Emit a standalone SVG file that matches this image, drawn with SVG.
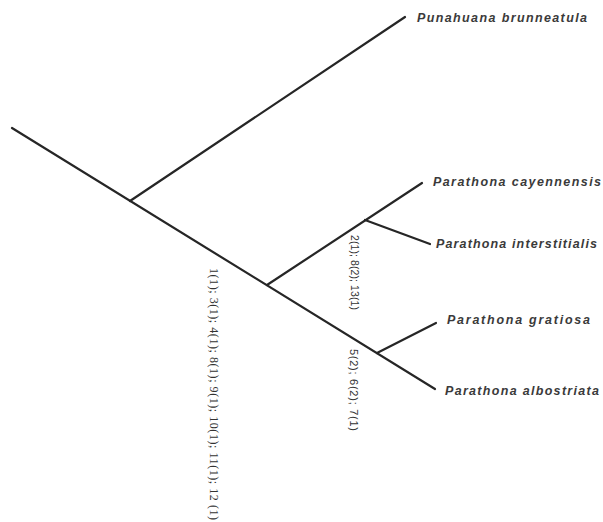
<svg xmlns="http://www.w3.org/2000/svg" width="603" height="522" viewBox="0 0 603 522">
<style>
.br{stroke:#262626;stroke-width:2.2;fill:none;stroke-linecap:round}
.tx{font-family:"Liberation Sans",Arial,sans-serif;font-style:italic;font-weight:bold;font-size:12.5px;fill:#3a3a3a}
.ch{font-family:"Liberation Sans",Arial,sans-serif;font-size:11px;fill:#333}
.chs{font-family:"Liberation Serif","Times New Roman",serif;font-size:12px;fill:#333}
</style>
<rect width="603" height="522" fill="#fff"/>
<g id="connectors">
<line class="br" x1="12" y1="128" x2="435" y2="389"/>
<line class="br" x1="130" y1="201" x2="405" y2="17"/>
<line class="br" x1="267" y1="285" x2="422" y2="183"/>
<line class="br" x1="365" y1="220" x2="430" y2="244"/>
<line class="br" x1="377" y1="353" x2="436" y2="323"/>
</g>
<g id="t1"><text class="tx" x="417" y="22" textLength="170" lengthAdjust="spacing">Punahuana brunneatula</text></g>
<g id="t2"><text class="tx" x="433" y="186" textLength="168" lengthAdjust="spacing">Parathona cayennensis</text></g>
<g id="t3"><text class="tx" x="436" y="248" textLength="161" lengthAdjust="spacing">Parathona interstitialis</text></g>
<g id="t4"><text class="tx" x="447" y="324" textLength="143" lengthAdjust="spacing">Parathona gratiosa</text></g>
<g id="t5"><text class="tx" x="445" y="395" textLength="154" lengthAdjust="spacing">Parathona albostriata</text></g>
<g id="c1"><text class="chs" transform="translate(210,268) rotate(90)" textLength="252" lengthAdjust="spacing">1(1); 3(1); 4(1); 8(1); 9(1); 10(1); 11(1); 12 (1)</text></g>
<g id="c2"><text class="ch" style="font-size:10.5px" transform="translate(351,235) rotate(90)" textLength="75" lengthAdjust="spacing">2(1); 8(2); 13(1)</text></g>
<g id="c3"><text class="ch" transform="translate(350,349) rotate(90)" textLength="82" lengthAdjust="spacing">5(2); 6(2); 7(1)</text></g>
</svg>
